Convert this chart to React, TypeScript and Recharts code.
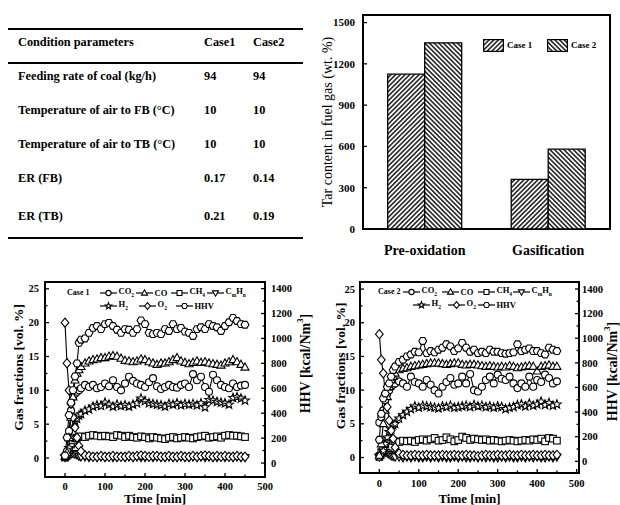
import React from "react";
import {
  BarChart,
  Bar,
  LineChart,
  Line,
  XAxis,
  YAxis,
  Legend,
  ReferenceArea,
} from "recharts";

const FONT = '"Liberation Serif", "Times New Roman", serif';

// ---------- table ----------
const tableHeader = ["Condition parameters", "Case1", "Case2"];
const tableParams = [
  "Feeding rate of coal (kg/h)",
  "Temperature of air to FB (°C)",
  "Temperature of air to TB (°C)",
  "ER (FB)",
  "ER (TB)",
];
const tableCase1 = ["94", "10", "10", "0.17", "0.21"];
const tableCase2 = ["94", "10", "10", "0.14", "0.19"];

// ---------- tar bar chart ----------
const stages = ["Pre-oxidation", "Gasification"];
const tarCase1 = [1125, 360];
const tarCase2 = [1353, 580];
const tarTicks = [0, 300, 600, 900, 1200, 1500];

// ---------- gas composition ----------
const timeMin = [
  0, 5, 10, 15, 20, 25, 30, 35, 40, 50, 60, 70, 80, 90, 100, 110, 120, 130, 140,
  150, 160, 170, 180, 190, 200, 210, 220, 230, 240, 250, 260, 270, 280, 290, 300,
  310, 320, 330, 340, 350, 360, 370, 380, 390, 400, 410, 420, 430, 440, 450,
];

const case1CO2 = [
  0.2, 1.0, 4.0, 7.0, 9.0, 9.5, 9.8, 10.0, 10.3, 10.8, 10.5, 10.8, 10.3, 10.5,
  11.0, 10.6, 11.5, 10.5, 10.0, 11.0, 12.0, 11.4, 11.0, 10.8, 10.5, 11.2, 11.8,
  10.6, 10.2, 10.5, 10.8, 10.5, 10.4, 10.8, 11.0, 10.5, 12.4, 11.5, 12.0, 10.5,
  9.8, 12.3, 11.5, 10.8, 10.5, 10.3, 11.0, 10.5, 10.7, 10.8,
];
const case1CO = [
  0.2, 0.8, 3.0, 6.0, 9.0, 11.5, 12.5, 13.0, 13.5, 14.0, 14.3, 14.5, 14.6, 14.8,
  14.8, 15.0, 15.1, 15.0, 14.7, 14.4, 14.3, 14.2, 14.3, 14.6, 14.5, 14.2, 14.0,
  13.8, 14.0, 14.0, 14.2, 14.5, 14.8, 14.3, 14.1, 13.9, 14.1, 14.3, 14.1, 14.2,
  14.0, 13.9, 13.8, 13.7, 14.0, 14.2, 14.5, 14.2, 13.8, 13.4,
];
const case1CH4 = [
  0.1, 0.5, 1.2, 2.0, 2.6, 2.9, 3.0, 3.1, 3.2, 3.1, 3.3, 3.4, 3.3, 3.2, 3.3, 3.2,
  3.1, 3.4, 3.3, 3.1, 3.3, 3.1, 3.0, 3.2, 3.1, 2.9, 3.1, 3.0, 2.9, 2.8, 3.0, 3.1,
  2.9, 3.0, 3.1, 3.0, 2.9, 3.1, 3.2, 3.3, 3.0, 3.1, 3.2, 3.0, 3.3, 3.4, 3.3, 3.3,
  3.2, 3.1,
];
const case1CmHn = [
  0.1, 0.2, 0.4, 0.6, 0.7, 0.6, 0.5, 0.3, 0.2, 0.2, 0.1, 0.2, 0.1, 0.2, 0.1, 0.2,
  0.1, 0.1, 0.2, 0.1, 0.2, 0.1, 0.2, 0.1, 0.1, 0.2, 0.1, 0.2, 0.1, 0.1, 0.2, 0.1,
  0.1, 0.2, 0.1, 0.1, 0.2, 0.1, 0.2, 0.1, 0.2, 0.1, 0.1, 0.2, 0.1, 0.2, 0.1, 0.2,
  0.1, 0.1,
];
const case1H2 = [
  0.2, 0.5, 1.5, 3.0, 4.5, 5.5, 5.8, 6.3, 6.5, 7.0, 7.2, 7.6, 7.8, 7.7, 8.2, 7.9,
  7.6, 7.9, 7.7, 7.8, 7.6, 7.9, 8.1, 8.8, 8.4, 8.1, 8.0, 7.9, 7.8, 7.6, 8.0, 7.9,
  8.1, 7.8, 8.0, 7.9, 8.0, 7.8, 8.1, 7.5, 8.6, 8.5, 8.3, 8.2, 8.1, 7.9, 8.9, 9.0,
  8.8, 8.5,
];
const case1O2 = [
  20.0, 14.0, 10.0, 8.0, 6.0, 4.5, 3.0, 1.8, 1.0, 0.4, 0.3, 0.2, 0.2, 0.3, 0.2,
  0.2, 0.3, 0.2, 0.2, 0.2, 0.3, 0.2, 0.3, 0.4, 0.3, 0.2, 0.3, 0.3, 0.2, 0.2, 0.3,
  0.2, 0.2, 0.3, 0.2, 0.2, 0.3, 0.2, 0.3, 0.4, 0.3, 0.2, 0.3, 0.2, 0.3, 0.2, 0.2,
  0.3, 0.2, 0.2,
];
const case1HHV = [
  60, 205, 385, 485, 585, 695, 800, 965, 990, 1000, 1045, 1085, 1100, 1075, 1115,
  1125, 1100, 1070, 1045, 1075, 1070, 1045, 1075, 1145, 1115, 1045, 1035, 1045,
  1035, 1075, 1060, 1115, 1075, 1085, 1055, 1045, 1020, 1075, 1090, 1075, 1115,
  1100, 1090, 1060, 1100, 1130, 1165, 1140, 1115, 1110,
];

const case2CO2 = [
  5.2, 6.0, 7.0, 8.5, 9.5, 10.0, 10.5, 10.8, 11.0, 11.3, 11.0, 10.5, 12.0, 11.2,
  11.0, 10.5, 11.5, 10.8, 10.0, 9.5, 10.5, 11.2, 11.8, 10.8, 11.0, 12.0, 11.0,
  12.4, 10.0, 9.8, 10.5, 11.5, 12.0, 11.0, 12.3, 11.7, 11.5, 12.0, 11.0, 10.3,
  11.0, 10.5, 12.0, 10.5, 11.5, 11.2, 12.3, 11.8, 11.0, 11.3,
];
const case2CO = [
  0.3, 2.0, 5.0, 7.0, 9.0, 10.5, 11.5, 12.0, 12.5, 13.0, 13.2, 13.3, 13.5, 13.6,
  13.7, 13.8, 13.9, 14.0, 14.0, 14.0, 13.9, 13.8, 13.9, 14.0, 14.0, 13.8, 13.7,
  13.8, 13.8, 13.7, 13.6, 13.5, 13.6, 13.5, 13.4, 13.5, 13.4, 13.6, 13.5, 13.3,
  13.4, 13.5, 13.6, 13.5, 12.8, 13.5, 13.6, 13.7, 13.5, 13.5,
];
const case2CH4 = [
  0.1, 0.8, 1.5, 2.0, 2.5, 2.7, 2.6, 2.5, 2.4, 2.3, 2.5, 2.4, 2.5, 2.3, 2.6, 2.7,
  2.5, 2.7, 2.9, 2.5, 2.6, 3.0, 2.7, 2.4, 2.6, 3.1, 2.9, 2.6, 2.8, 2.7, 2.6, 2.7,
  2.5, 2.6, 2.5, 2.4, 2.5, 2.6, 2.5, 2.4, 2.5, 2.6, 2.5, 2.7, 2.6, 2.8, 2.4, 2.9,
  2.8, 2.5,
];
const case2CmHn = [
  0.1, 0.3, 0.6, 0.8, 0.7, 0.5, 0.3, 0.2, 0.1, 0.1, 0.0, 0.1, 0.0, 0.1, 0.0, 0.0,
  0.1, 0.0, 0.1, 0.0, 0.1, 0.0, 0.0, 0.1, 0.0, 0.1, 0.0, 0.0, 0.1, 0.0, 0.1, 0.0,
  0.1, 0.0, 0.0, 0.1, 0.0, 0.1, 0.0, 0.0, 0.1, 0.0, 0.1, 0.0, 0.1, 0.0, 0.0, 0.1,
  0.0, 0.1,
];
const case2H2 = [
  0.2, 0.5, 1.0, 2.0, 3.0, 3.8, 4.2, 4.8, 5.0, 5.8, 6.3, 6.8, 7.2, 7.6, 7.4, 7.7,
  7.6, 7.5, 7.4, 7.3, 7.6, 7.5, 7.7, 7.4, 7.5, 7.6, 7.7, 7.5, 7.8, 7.6, 7.7, 7.5,
  7.6, 7.4, 7.6, 7.5, 7.2, 7.4, 7.5, 7.8, 7.9, 7.6, 8.0, 7.7, 7.9, 8.3, 7.8, 8.1,
  7.7, 7.9,
];
const case2O2 = [
  18.3, 14.5, 12.5, 9.5, 7.5, 5.5, 4.0, 2.8, 1.5, 0.6, 0.4, 0.3, 0.3, 0.4, 0.3,
  0.3, 0.4, 0.3, 0.3, 0.3, 0.4, 0.3, 0.3, 0.4, 0.3, 0.3, 0.4, 0.3, 0.3, 0.2, 0.3,
  0.4, 0.3, 0.3, 0.4, 0.3, 0.3, 0.4, 0.3, 0.3, 0.4, 0.3, 0.3, 0.4, 0.3, 0.3, 0.4,
  0.3, 0.3, 0.4,
];
const case2HHV = [
  175, 386, 512, 551, 605, 633, 688, 742, 770, 808, 825, 852, 868, 890, 885, 978,
  879, 896, 885, 907, 923, 951, 934, 896, 918, 962, 923, 890, 907, 879, 890, 879,
  907, 890, 890, 879, 874, 879, 885, 951, 896, 907, 918, 896, 896, 879, 868, 923,
  907, 896,
];

const gasTicks = [0, 2.5, 5, 7.5, 10, 12.5, 15, 17.5, 20, 22.5, 25];
const hhvTicks = [0, 100, 200, 300, 400, 500, 600, 700, 800, 900, 1000, 1100, 1200, 1300, 1400];
const timeTicks = [0, 50, 100, 150, 200, 250, 300, 350, 400, 450, 500];

const tarRows = stages.map((stage, i) => ({ stage, case1: tarCase1[i], case2: tarCase2[i] }));

const buildRows = (co2: number[], co: number[], ch4: number[], cmhn: number[], h2: number[], o2: number[], hhv: number[]) =>
  timeMin.map((t, i) => ({ t, co2: co2[i], co: co[i], ch4: ch4[i], cmhn: cmhn[i], h2: h2[i], o2: o2[i], hhv: hhv[i] }));

const case1Rows = buildRows(case1CO2, case1CO, case1CH4, case1CmHn, case1H2, case1O2, case1HHV);
const case2Rows = buildRows(case2CO2, case2CO, case2CH4, case2CmHn, case2H2, case2O2, case2HHV);

const sub = { fontSize: 5.5 };
const gasSeries = [
  { key: "co2", shape: "circle", label: <>CO<sub style={sub}>2</sub></> },
  { key: "co", shape: "up", label: <>CO</> },
  { key: "ch4", shape: "square", label: <>CH<sub style={sub}>4</sub></> },
  { key: "cmhn", shape: "down", label: <>C<sub style={sub}>m</sub>H<sub style={sub}>n</sub></> },
  { key: "h2", shape: "star", label: <>H<sub style={sub}>2</sub></> },
  { key: "o2", shape: "diamond", label: <>O<sub style={sub}>2</sub></> },
  { key: "hhv", shape: "hexagon", label: <>HHV</> },
];
// drawing order (last on top)
const drawOrder = ["cmhn", "ch4", "h2", "co2", "co", "o2", "hhv"];

// ---------- shared pieces ----------
const Marker = ({ cx, cy, shape, r = 3.5 }: any) => {
  if (cx == null || cy == null || isNaN(cx) || isNaN(cy)) return null;
  const st = { fill: "#fff", stroke: "#000", strokeWidth: 1.1 };
  if (shape === "circle") return <circle cx={cx} cy={cy} r={r} {...st} />;
  if (shape === "square") return <rect x={cx - r * 0.95} y={cy - r * 0.95} width={1.9 * r} height={1.9 * r} {...st} />;
  if (shape === "up")
    return <polygon points={`${cx},${cy - r * 1.25} ${cx + r * 1.15},${cy + r * 0.8} ${cx - r * 1.15},${cy + r * 0.8}`} {...st} />;
  if (shape === "down")
    return <polygon points={`${cx},${cy + r * 1.25} ${cx + r * 1.15},${cy - r * 0.8} ${cx - r * 1.15},${cy - r * 0.8}`} {...st} />;
  if (shape === "diamond")
    return <polygon points={`${cx},${cy - r * 1.3} ${cx + r * 1.1},${cy} ${cx},${cy + r * 1.3} ${cx - r * 1.1},${cy}`} {...st} />;
  if (shape === "star") {
    const pts: string[] = [];
    for (let k = 0; k < 10; k++) {
      const rr = k % 2 === 0 ? r * 1.3 : r * 0.55;
      const a = -Math.PI / 2 + (k * Math.PI) / 5;
      pts.push(`${cx + rr * Math.cos(a)},${cy + rr * Math.sin(a)}`);
    }
    return <polygon points={pts.join(" ")} {...st} />;
  }
  const hex: string[] = [];
  for (let k = 0; k < 6; k++) {
    const a = (k * Math.PI) / 3;
    hex.push(`${cx + r * 1.12 * Math.cos(a)},${cy + r * 1.12 * Math.sin(a)}`);
  }
  return <polygon points={hex.join(" ")} {...st} />;
};

const dotFor = (shape: string) => (p: any) => <Marker key={`${shape}-${p.index}`} cx={p.cx} cy={p.cy} shape={shape} />;

const AxisTick = (props: any) => {
  const { x, y, payload, side, step, gap = 5, size = 10.5, base = 13 } = props;
  const v = Number(payload.value);
  const major = Math.abs(v / step - Math.round(v / step)) < 1e-6;
  const len = major ? 4 : 2.5;
  const txt = { fontFamily: FONT, fontWeight: 700, fontSize: size, fill: "#000" };
  if (side === "left")
    return (
      <g>
        <line x1={x} y1={y} x2={x + len} y2={y} stroke="#000" strokeWidth={1.3} />
        {major && <text x={x - gap} y={y + size * 0.35} textAnchor="end" style={txt}>{v}</text>}
      </g>
    );
  if (side === "right")
    return (
      <g>
        <line x1={x} y1={y} x2={x - len} y2={y} stroke="#000" strokeWidth={1.3} />
        {major && <text x={x + gap} y={y + size * 0.35} textAnchor="start" style={txt}>{v}</text>}
      </g>
    );
  return (
    <g>
      <line x1={x} y1={y} x2={x} y2={y - len} stroke="#000" strokeWidth={1.3} />
      {major && <text x={x} y={y + base} textAnchor="middle" style={txt}>{v}</text>}
    </g>
  );
};

const CatTick = (props: any) => {
  const { x, y, payload } = props;
  return (
    <text x={x} y={y + 26} textAnchor="middle" style={{ fontFamily: FONT, fontWeight: 700, fontSize: 14, fill: "#000" }}>
      {payload.value}
    </text>
  );
};

const VTitle = (props: any) => {
  const { viewBox, dx = 0, dy = 0, size = 14, weight = 700, text, sup } = props;
  if (!viewBox) return null;
  const cx = viewBox.x + dx;
  const cy = viewBox.y + viewBox.height / 2 + dy;
  return (
    <text
      x={cx}
      y={cy}
      transform={`rotate(-90 ${cx} ${cy})`}
      textAnchor="middle"
      dominantBaseline="central"
      style={{ fontFamily: FONT, fontWeight: weight, fontSize: size, fill: "#000" }}
    >
      <tspan>{text}</tspan>
      {sup && (
        <>
          <tspan dy={-5} fontSize={size * 0.62}>{sup}</tspan>
          <tspan dy={5}>]</tspan>
        </>
      )}
    </text>
  );
};

const HTitle = (props: any) => {
  const { viewBox, dy = 0, text } = props;
  if (!viewBox) return null;
  return (
    <text
      x={viewBox.x + viewBox.width / 2}
      y={viewBox.y + dy}
      textAnchor="middle"
      style={{ fontFamily: FONT, fontWeight: 700, fontSize: 13, fill: "#000" }}
    >
      {text}
    </text>
  );
};

const TarLegend = () => (
  <div style={{ position: "relative", width: 130, height: 14, fontFamily: FONT, fontWeight: 700, fontSize: 9 }}>
    {[
      { name: "Case 1", fill: "url(#hatchFwd)", left: 0 },
      { name: "Case 2", fill: "url(#hatchBack)", left: 64 },
    ].map((s) => (
      <div key={s.name} style={{ position: "absolute", left: s.left, top: 0, display: "flex", alignItems: "center", whiteSpace: "nowrap" }}>
        <svg width={21} height={13}>
          <rect x={0.6} y={0.6} width={19.8} height={11.8} fill={s.fill} stroke="#000" strokeWidth={1.2} />
        </svg>
        <span style={{ marginLeft: 3, lineHeight: "13px" }}>{s.name}</span>
      </div>
    ))}
  </div>
);

const GasLegend = ({ caseLabel, caseX, cols1, cols2, y1, y2 }: any) => (
  <div style={{ position: "relative", width: 220, height: 32, fontFamily: FONT, fontWeight: 700, fontSize: 8.5, color: "#000" }}>
    <div style={{ position: "absolute", left: caseX, top: y1 - 6, lineHeight: "12px", whiteSpace: "nowrap", fontSize: 8 }}>{caseLabel}</div>
    {gasSeries.map((s, i) => {
      const row = i < 4 ? 0 : 1;
      const left = row === 0 ? cols1[i] : cols2[i - 4];
      const top = (row === 0 ? y1 : y2) - 6;
      return (
        <div key={s.key} style={{ position: "absolute", left, top, height: 12, display: "flex", alignItems: "center", whiteSpace: "nowrap" }}>
          <svg width={17} height={12}>
            <line x1={0} y1={6} x2={17} y2={6} stroke="#000" strokeWidth={1.2} />
            <Marker cx={8.5} cy={6} shape={s.shape} r={2.6} />
          </svg>
          <span style={{ marginLeft: 1.5, lineHeight: "12px" }}>{s.label}</span>
        </div>
      );
    })}
  </div>
);

const GasChart = ({ rows, width, gasDomain, hhvDomain, timeDomain, leftW, rightW, xH, legend, titles }: any) => (
  <LineChart width={width} height={235} data={rows} margin={{ top: 12, right: 0, left: 5, bottom: 1 }}>
    <XAxis
      dataKey="t"
      type="number"
      domain={timeDomain}
      ticks={timeTicks}
      interval={0}
      allowDataOverflow
      height={xH}
      tickSize={0}
      tickMargin={0}
      tickLine={false}
      axisLine={false}
      tick={<AxisTick side="bottom" step={100} base={titles.xTick} />}
      label={<HTitle dy={titles.xTitle} text="Time [min]" />}
    />
    <YAxis
      yAxisId="g"
      orientation="left"
      width={leftW}
      domain={gasDomain}
      ticks={gasTicks}
      interval={0}
      allowDataOverflow
      tickSize={0}
      tickMargin={0}
      tickLine={false}
      axisLine={false}
      tick={<AxisTick side="left" step={5} gap={titles.leftGap} />}
      label={<VTitle dx={titles.leftDx} dy={titles.leftDy} size={13.5} text="Gas fractions [vol. %]" />}
    />
    <YAxis
      yAxisId="h"
      orientation="right"
      width={rightW}
      domain={hhvDomain}
      ticks={hhvTicks}
      interval={0}
      allowDataOverflow
      tickSize={0}
      tickMargin={0}
      tickLine={false}
      axisLine={false}
      tick={<AxisTick side="right" step={200} gap={titles.rightGap} />}
      label={<VTitle dx={titles.rightDx} dy={titles.rightDy} size={14} text="HHV [kcal/Nm" sup="3" />}
    />
    <ReferenceArea yAxisId="g" y1={gasDomain[0]} y2={gasDomain[1]} fill="none" stroke="#000" strokeWidth={2} ifOverflow="visible" />
    {drawOrder.map((key) => {
      const s = gasSeries.find((g) => g.key === key)!;
      return (
        <Line
          key={key}
          yAxisId={key === "hhv" ? "h" : "g"}
          dataKey={key}
          type="linear"
          stroke="#000"
          strokeWidth={1.1}
          dot={dotFor(s.shape)}
          activeDot={false}
          legendType="none"
          isAnimationActive={false}
        />
      );
    })}
    <Legend
      layout="horizontal"
      verticalAlign="middle"
      align="center"
      wrapperStyle={{ left: legend.left, top: 12, width: 220, height: 32 }}
      content={() => <GasLegend {...legend} />}
    />
  </LineChart>
);

export default function App() {
  const cell = { position: "absolute" as const, fontFamily: FONT, fontWeight: 700, fontSize: 12.3, whiteSpace: "nowrap" as const, lineHeight: "14px" };
  const rowCenters = [76, 110, 144, 178, 216];
  return (
    <div style={{ position: "absolute", left: 0, top: 0, width: 620, height: 505, background: "#fff", overflow: "hidden" }}>
      <svg width={0} height={0} style={{ position: "absolute" }}>
        <defs>
          <pattern id="hatchFwd" width={3.3} height={3.3} patternUnits="userSpaceOnUse" patternTransform="rotate(45)">
            <rect width={3.3} height={3.3} fill="#fff" />
            <line x1={1.65} y1={0} x2={1.65} y2={3.3} stroke="#000" strokeWidth={1.35} />
          </pattern>
          <pattern id="hatchBack" width={3.3} height={3.3} patternUnits="userSpaceOnUse" patternTransform="rotate(-45)">
            <rect width={3.3} height={3.3} fill="#fff" />
            <line x1={1.65} y1={0} x2={1.65} y2={3.3} stroke="#000" strokeWidth={1.35} />
          </pattern>
        </defs>
      </svg>

      {/* table */}
      <div style={{ position: "absolute", left: 8, top: 28, width: 295, height: 2, background: "#000" }} />
      <div style={{ position: "absolute", left: 8, top: 62, width: 295, height: 1.5, background: "#000" }} />
      <div style={{ position: "absolute", left: 8, top: 237, width: 295, height: 2, background: "#000" }} />
      <div style={{ ...cell, left: 18, top: 42 - 7 }}>{tableHeader[0]}</div>
      <div style={{ ...cell, left: 204, top: 42 - 7 }}>{tableHeader[1]}</div>
      <div style={{ ...cell, left: 253, top: 42 - 7 }}>{tableHeader[2]}</div>
      {tableParams.map((p, i) => (
        <React.Fragment key={p}>
          <div style={{ ...cell, left: 18, top: rowCenters[i] - 7 }}>{p}</div>
          <div style={{ ...cell, left: 204, top: rowCenters[i] - 7 }}>{tableCase1[i]}</div>
          <div style={{ ...cell, left: 253, top: rowCenters[i] - 7 }}>{tableCase2[i]}</div>
        </React.Fragment>
      ))}

      {/* tar content bar chart */}
      <div style={{ position: "absolute", left: 300, top: 0 }}>
        <BarChart width={320} height={265} data={tarRows} margin={{ top: 15, right: 10, left: 5, bottom: 0 }} barCategoryGap="20%" barGap={0}>
          <XAxis dataKey="stage" height={36} interval={0} tickSize={0} tickMargin={0} tickLine={false} axisLine={false} tick={<CatTick />} />
          <YAxis
            width={58}
            domain={[0, 1555]}
            ticks={tarTicks}
            interval={0}
            allowDataOverflow
            tickSize={0}
            tickMargin={0}
            tickLine={false}
            axisLine={false}
            tick={<AxisTick side="left" step={300} gap={8} size={11} />}
            label={<VTitle dx={22} size={14} weight={400} text="Tar content in fuel gas (wt. %)" />}
          />
          <ReferenceArea y1={0} y2={1555} fill="none" stroke="#000" strokeWidth={2} ifOverflow="visible" />
          <Bar dataKey="case1" name="Case 1" fill="url(#hatchFwd)" stroke="#000" strokeWidth={1.3} isAnimationActive={false} />
          <Bar dataKey="case2" name="Case 2" fill="url(#hatchBack)" stroke="#000" strokeWidth={1.3} isAnimationActive={false} />
          <Legend
            layout="horizontal"
            verticalAlign="middle"
            align="center"
            wrapperStyle={{ left: 183, top: 39, width: 130, height: 14 }}
            content={() => <TarLegend />}
          />
        </BarChart>
      </div>

      {/* case 1 gas composition */}
      <div style={{ position: "absolute", left: 0, top: 270 }}>
        <GasChart
          rows={case1Rows}
          width={315}
          gasDomain={[-2.8, 26]}
          hhvDomain={[-112, 1453]}
          timeDomain={[-50, 500]}
          leftW={40}
          rightW={50}
          xH={27}
          legend={{ caseLabel: "Case 1", caseX: 22, cols1: [55, 91, 126, 162], cols2: [55, 94, 131], y1: 11, y2: 23.5, left: 45 }}
          titles={{ xTick: 13, xTitle: 25.5, leftGap: 6, leftDx: 13, leftDy: -12, rightGap: 6, rightDx: 40, rightDy: -16 }}
        />
      </div>

      {/* case 2 gas composition */}
      <div style={{ position: "absolute", left: 310, top: 270 }}>
        <GasChart
          rows={case2Rows}
          width={310}
          gasDomain={[-2.3, 26.05]}
          hhvDomain={[-95, 1457]}
          timeDomain={[-49, 506]}
          leftW={45}
          rightW={41}
          xH={31}
          legend={{ caseLabel: "Case 2", caseX: 18, cols1: [43, 82, 118, 153], cols2: [53, 88, 118], y1: 10, y2: 22.7, left: 50 }}
          titles={{ xTick: 14, xTitle: 29.5, leftGap: 5, leftDx: 24.5, leftDy: -11.5, rightGap: 3, rightDx: 33, rightDy: -6 }}
        />
      </div>
    </div>
  );
}
